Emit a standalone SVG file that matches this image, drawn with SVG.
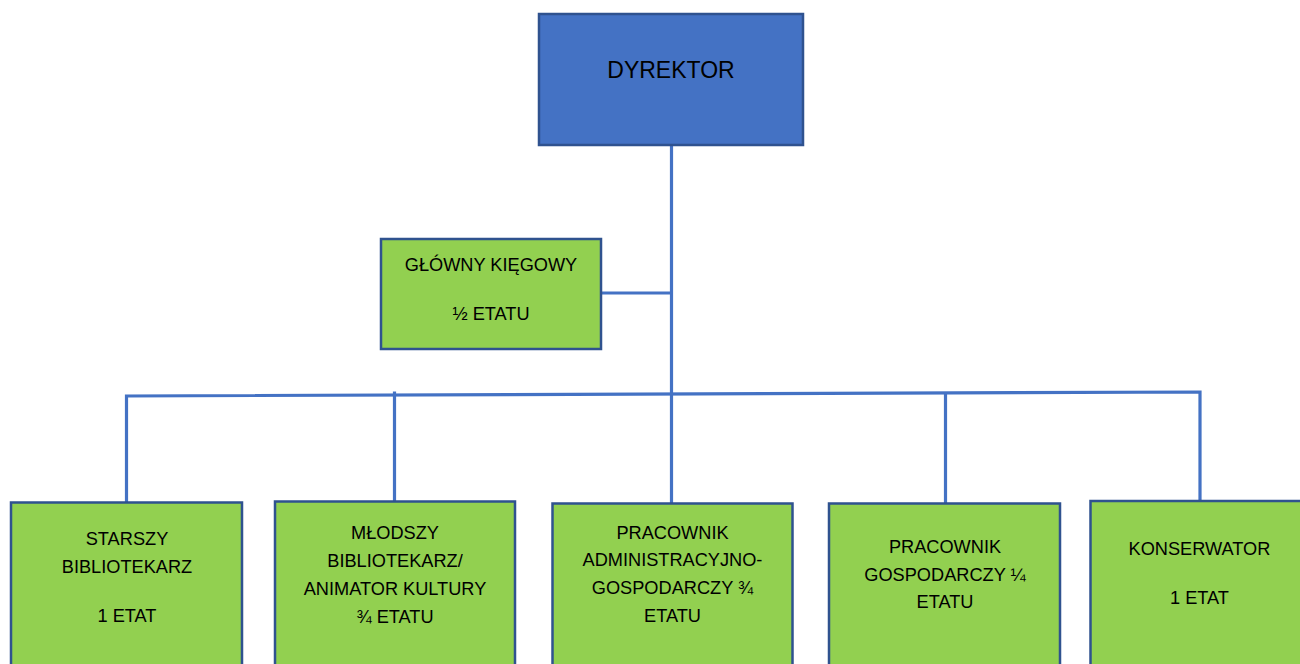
<svg xmlns="http://www.w3.org/2000/svg" width="1300" height="664" viewBox="0 0 1300 664">
<style>
.box{fill:#92D050;stroke:#2F528F;stroke-width:2.5}
.top{fill:#4472C4;stroke:#2F528F;stroke-width:2.5}
.t{font-family:"Liberation Sans",Arial,sans-serif;font-size:18.2px;fill:#000;text-anchor:middle}
.big{font-size:23px}
.c{stroke:#4472C4;stroke-width:3.2;fill:none}
</style>
<rect width="1300" height="664" fill="#fff"/>
<g id="connectors">
<line class="c" x1="671.5" y1="145" x2="671.5" y2="503"/>
<line class="c" x1="601" y1="293" x2="671.5" y2="293"/>
<polyline class="c" points="126.5,502 126.5,396 1200,392 1200,501"/>
<line class="c" x1="394.5" y1="391.5" x2="394.5" y2="501"/>
<line class="c" x1="945.5" y1="392" x2="945.5" y2="503"/>
</g>
<g id="dyrektor">
<rect class="top" x="539" y="14" width="264" height="131"/>
<text class="t big" x="671" y="78">DYREKTOR</text>
</g>
<g id="glowny-ksiegowy">
<rect class="box" x="381" y="239" width="220" height="110"/>
<text class="t" x="491" y="271">GŁÓWNY KIĘGOWY</text>
<text class="t" x="491" y="320">½ ETATU</text>
</g>
<g id="starszy-bibliotekarz">
<rect class="box" x="11" y="502.5" width="231" height="180"/>
<text class="t" x="127" y="545">STARSZY</text>
<text class="t" x="127" y="573">BIBLIOTEKARZ</text>
<text class="t" x="127" y="622">1 ETAT</text>
</g>
<g id="mlodszy-bibliotekarz">
<rect class="box" x="275" y="501.5" width="240" height="180"/>
<text class="t" x="395" y="539">MŁODSZY</text>
<text class="t" x="395" y="567">BIBLIOTEKARZ/</text>
<text class="t" x="395" y="595">ANIMATOR KULTURY</text>
<text class="t" x="395" y="623">¾ ETATU</text>
</g>
<g id="pracownik-administracyjny">
<rect class="box" x="552.5" y="503.5" width="240" height="180"/>
<text class="t" x="672.5" y="539">PRACOWNIK</text>
<text class="t" x="672.5" y="566">ADMINISTRACYJNO-</text>
<text class="t" x="672.5" y="593.5">GOSPODARCZY ¾</text>
<text class="t" x="672.5" y="621.5">ETATU</text>
</g>
<g id="pracownik-gospodarczy">
<rect class="box" x="829" y="503.5" width="231" height="180"/>
<text class="t" x="945" y="553">PRACOWNIK</text>
<text class="t" x="945" y="580.5">GOSPODARCZY ¼</text>
<text class="t" x="945" y="608">ETATU</text>
</g>
<g id="konserwator">
<rect class="box" x="1090.5" y="501" width="230" height="180"/>
<text class="t" x="1199.5" y="555">KONSERWATOR</text>
<text class="t" x="1199.5" y="603.5">1 ETAT</text>
</g>
</svg>
